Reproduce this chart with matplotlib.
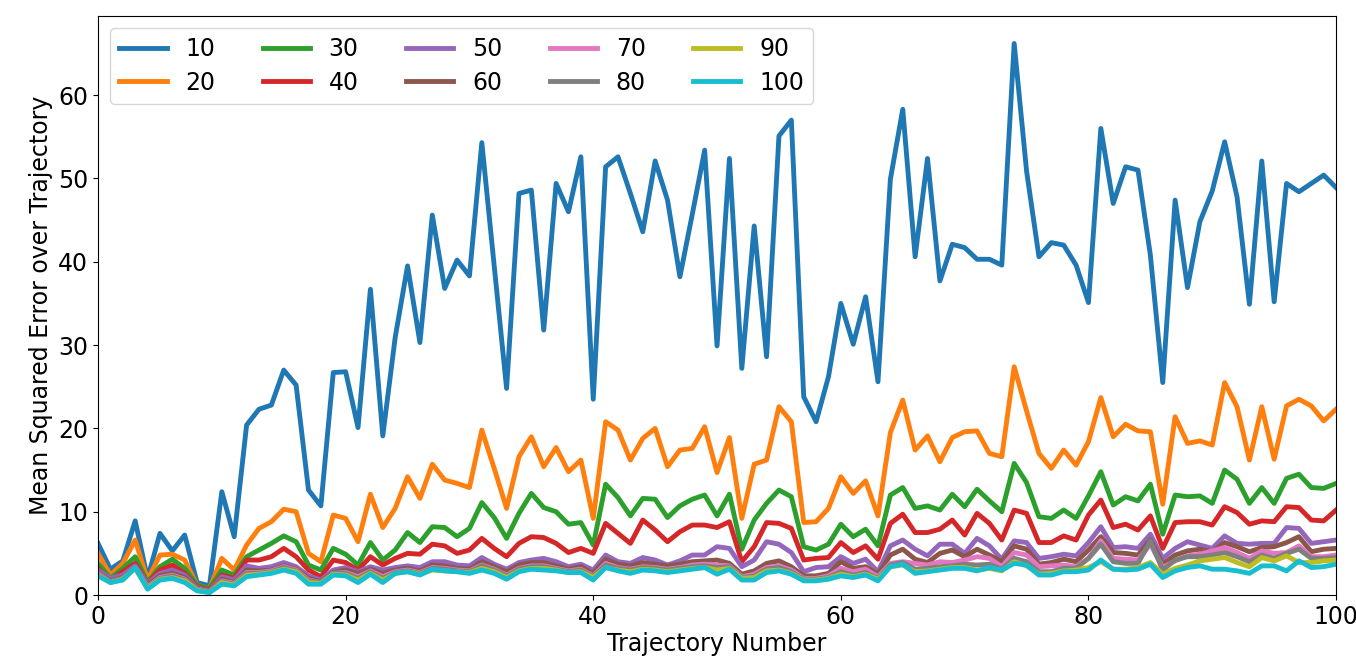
import matplotlib
matplotlib.use("Agg")
import matplotlib.pyplot as plt

trajectory = list(range(101))

s10 = [6.2, 3.1, 4.1, 8.9, 2.0, 7.4, 5.3, 7.2, 1.5, 1.1, 12.4, 7.0, 20.4, 22.3, 22.8, 27.0, 25.2, 12.6, 10.7, 26.7,
       26.8, 20.1, 36.7, 19.1, 30.9, 39.5, 30.3, 45.6, 36.8, 40.2, 38.3, 54.3, 39.5, 24.8, 48.2, 48.6, 31.8, 49.4, 46.0, 52.6,
       23.5, 51.4, 52.6, 48.2, 43.6, 52.1, 47.4, 38.2, 45.7, 53.4, 29.9, 52.4, 27.2, 44.3, 28.6, 55.1, 57.0, 23.8, 20.8, 26.2,
       35.0, 30.1, 35.8, 25.6, 49.9, 58.3, 40.6, 52.4, 37.7, 42.1, 41.7, 40.3, 40.3, 39.6, 66.2, 50.9, 40.6, 42.3, 42.0, 39.6,
       35.1, 56.0, 47.0, 51.4, 51.0, 40.8, 25.5, 47.4, 36.9, 44.8, 48.5, 54.4, 47.8, 34.9, 52.1, 35.2, 49.4, 48.4, 49.4, 50.4,
       48.9]
s20 = [5.0, 2.4, 3.8, 6.6, 1.8, 4.8, 4.9, 4.2, 1.2, 0.8, 4.4, 3.0, 6.0, 8.0, 8.8, 10.3, 10.0, 5.0, 4.0, 9.6,
       9.2, 6.4, 12.1, 8.1, 10.4, 14.2, 11.6, 15.7, 13.8, 13.4, 12.9, 19.8, 15.2, 10.4, 16.6, 19.0, 15.4, 17.7, 14.8, 16.2,
       9.2, 20.8, 19.8, 16.2, 18.8, 20.0, 15.4, 17.4, 17.6, 20.2, 14.7, 18.9, 9.2, 15.7, 16.2, 22.6, 20.8, 8.7, 8.8, 10.4,
       14.2, 12.2, 13.7, 9.5, 19.5, 23.4, 17.4, 19.1, 16.0, 18.9, 19.6, 19.7, 17.0, 16.6, 27.4, 22.1, 17.0, 15.2, 17.4, 15.6,
       18.4, 23.7, 19.0, 20.5, 19.7, 19.6, 10.9, 21.4, 18.2, 18.5, 18.0, 25.5, 22.6, 16.2, 22.6, 16.3, 22.7, 23.5, 22.7, 20.9,
       22.3]
s30 = [3.8, 2.0, 3.2, 4.6, 1.5, 3.4, 4.3, 3.2, 1.2, 0.8, 3.0, 2.4, 4.6, 5.4, 6.2, 7.1, 6.4, 3.6, 3.0, 5.6,
       4.9, 3.6, 6.3, 4.2, 5.4, 7.5, 6.3, 8.2, 8.1, 7.0, 8.0, 11.1, 9.3, 6.8, 9.8, 12.2, 10.5, 10.0, 8.5, 8.7,
       6.0, 13.3, 11.7, 9.5, 11.6, 11.5, 9.3, 10.7, 11.5, 12.0, 9.5, 12.1, 5.5, 9.0, 11.0, 12.6, 11.8, 5.8, 5.4, 6.1,
       8.5, 7.0, 7.9, 5.9, 12.0, 12.9, 10.4, 10.7, 10.2, 12.1, 10.6, 12.7, 11.3, 10.0, 15.8, 13.5, 9.4, 9.2, 10.2, 9.2,
       11.9, 14.8, 10.8, 11.8, 11.3, 13.3, 7.3, 12.0, 11.8, 11.9, 11.0, 15.0, 13.9, 11.0, 12.9, 11.0, 14.0, 14.5, 12.9, 12.8,
       13.4]
s40 = [3.2, 1.8, 2.8, 3.8, 1.4, 3.0, 3.6, 2.6, 1.0, 0.6, 2.4, 2.0, 4.2, 4.2, 4.6, 5.6, 4.6, 3.0, 2.2, 4.2,
       3.9, 3.0, 4.6, 3.6, 4.4, 5.0, 4.9, 6.1, 5.9, 5.0, 5.4, 6.8, 5.6, 4.6, 6.2, 7.0, 6.9, 6.2, 5.1, 5.6,
       5.0, 8.6, 7.4, 6.2, 9.0, 7.8, 6.4, 7.6, 8.4, 8.4, 8.1, 8.8, 4.0, 5.8, 8.7, 8.6, 8.0, 4.2, 4.4, 4.5,
       6.3, 5.1, 5.9, 4.3, 8.6, 9.7, 7.5, 7.5, 7.9, 9.0, 7.2, 9.8, 8.6, 6.6, 10.2, 9.8, 6.3, 6.3, 7.1, 6.6,
       9.6, 11.4, 8.1, 8.5, 7.8, 9.5, 5.6, 8.7, 8.8, 8.8, 8.4, 10.6, 9.9, 8.5, 8.9, 8.8, 10.6, 10.5, 9.0, 8.9,
       10.2]
s50 = [3.0, 2.0, 2.4, 3.5, 1.4, 2.6, 3.0, 2.4, 0.9, 0.5, 2.2, 1.8, 3.5, 3.2, 3.4, 3.9, 3.4, 2.3, 1.8, 3.0,
       3.3, 2.8, 3.4, 3.0, 3.3, 3.5, 3.3, 4.0, 4.0, 3.6, 3.5, 4.5, 3.7, 3.1, 3.9, 4.2, 4.4, 4.0, 3.4, 3.7,
       3.0, 4.8, 4.0, 3.8, 4.5, 4.2, 3.6, 4.1, 4.8, 4.8, 5.8, 5.6, 3.4, 4.2, 6.4, 6.1, 5.1, 2.8, 3.3, 3.4,
       4.6, 3.8, 4.3, 2.8, 5.9, 6.6, 5.5, 4.7, 6.1, 6.1, 5.0, 6.8, 5.9, 4.3, 6.5, 6.3, 4.4, 4.6, 4.9, 4.7,
       6.3, 8.2, 5.7, 5.8, 5.6, 7.3, 4.4, 5.6, 6.4, 6.0, 5.6, 7.1, 6.2, 6.1, 6.2, 6.2, 8.1, 8.0, 6.2, 6.4,
       6.6]
s60 = [2.7, 1.7, 2.1, 3.2, 1.2, 2.3, 2.6, 2.1, 0.8, 0.4, 1.9, 1.5, 3.0, 2.9, 3.0, 3.5, 3.1, 2.0, 1.6, 2.7,
       3.0, 2.6, 3.1, 2.6, 3.0, 3.2, 2.9, 3.6, 3.5, 3.2, 3.1, 4.0, 3.4, 2.8, 3.6, 3.9, 3.9, 3.5, 3.1, 3.4,
       2.6, 4.3, 3.7, 3.5, 3.9, 3.7, 3.5, 3.7, 4.0, 4.1, 4.2, 3.8, 2.5, 2.9, 3.8, 4.1, 3.4, 2.3, 2.3, 2.6,
       4.0, 3.2, 3.4, 2.5, 4.8, 5.5, 4.3, 3.9, 5.0, 5.4, 4.6, 5.5, 4.8, 4.0, 5.9, 5.5, 3.7, 3.9, 4.3, 4.0,
       5.4, 7.0, 5.1, 5.0, 4.8, 6.6, 3.7, 4.8, 5.3, 5.5, 5.2, 6.3, 5.8, 5.2, 5.7, 5.8, 6.3, 7.0, 5.2, 5.5,
       5.6]
s70 = [2.6, 1.6, 2.0, 3.3, 1.0, 2.1, 2.4, 1.9, 0.7, 0.4, 1.7, 1.4, 2.7, 2.7, 2.9, 3.4, 3.0, 1.8, 1.5, 2.6,
       2.7, 2.2, 2.9, 2.2, 2.8, 3.0, 2.7, 3.3, 3.2, 3.0, 2.9, 3.6, 3.1, 2.4, 3.2, 3.5, 3.5, 3.2, 2.9, 3.1,
       2.3, 3.8, 3.3, 3.1, 3.4, 3.3, 3.1, 3.3, 3.6, 3.7, 3.6, 3.5, 2.2, 2.5, 3.3, 3.5, 3.0, 2.0, 2.0, 2.3,
       3.2, 2.8, 3.1, 2.2, 3.8, 4.0, 3.8, 3.6, 4.0, 3.9, 4.2, 4.6, 4.4, 3.4, 5.1, 4.8, 3.4, 3.5, 3.6, 3.4,
       4.4, 6.5, 4.4, 4.3, 4.2, 6.1, 3.3, 4.1, 4.7, 4.9, 5.3, 5.7, 5.1, 4.4, 5.3, 5.0, 5.1, 5.9, 4.6, 4.6,
       4.8]
s80 = [2.5, 1.6, 2.0, 3.3, 0.9, 2.0, 2.3, 1.8, 0.7, 0.4, 1.6, 1.3, 2.6, 2.6, 2.8, 3.3, 2.9, 1.7, 1.5, 2.6,
       2.6, 2.0, 2.8, 2.0, 2.7, 2.9, 2.6, 3.2, 3.1, 2.9, 2.8, 3.5, 3.0, 2.3, 3.1, 3.4, 3.4, 3.1, 2.8, 3.0,
       2.2, 3.6, 3.2, 3.0, 3.3, 3.2, 3.0, 3.2, 3.4, 3.5, 3.3, 3.4, 2.1, 2.3, 3.1, 3.3, 2.8, 1.9, 1.9, 2.1,
       2.8, 2.4, 2.7, 2.0, 3.6, 3.9, 3.1, 3.2, 3.4, 3.5, 3.7, 3.6, 3.7, 3.1, 4.4, 4.0, 2.8, 2.8, 3.2, 3.2,
       4.4, 6.1, 4.0, 3.8, 3.8, 6.5, 3.0, 4.2, 4.6, 4.6, 4.8, 5.1, 4.6, 4.0, 4.8, 4.4, 5.0, 5.5, 4.4, 4.4,
       4.5]
s90 = [2.4, 1.5, 1.9, 3.2, 0.8, 1.9, 2.1, 1.7, 0.6, 0.3, 1.5, 1.2, 2.4, 2.5, 2.7, 3.1, 2.8, 1.5, 1.4, 2.5,
       2.4, 1.8, 2.6, 1.8, 2.6, 2.8, 2.5, 3.0, 2.9, 2.8, 2.7, 3.2, 2.8, 2.1, 2.9, 3.2, 3.2, 3.0, 2.7, 2.8,
       2.1, 3.3, 3.0, 2.8, 3.1, 3.0, 2.8, 3.0, 3.2, 3.3, 3.0, 3.2, 2.0, 2.1, 2.9, 3.0, 2.6, 1.8, 1.8, 2.0,
       2.5, 2.2, 2.5, 1.9, 3.4, 3.6, 2.8, 2.9, 3.1, 3.3, 3.3, 3.0, 3.2, 2.9, 4.0, 3.5, 2.5, 2.6, 2.9, 3.0,
       3.3, 4.0, 3.1, 3.1, 3.3, 3.9, 2.5, 3.2, 3.6, 4.1, 4.3, 4.5, 3.9, 3.4, 4.5, 4.1, 4.7, 3.9, 3.9, 4.1,
       4.2]
s100 = [2.3, 1.5, 1.8, 3.3, 0.7, 1.8, 2.0, 1.5, 0.5, 0.3, 1.3, 1.1, 2.2, 2.4, 2.6, 3.0, 2.6, 1.3, 1.3, 2.4,
        2.3, 1.5, 2.5, 1.5, 2.6, 2.8, 2.4, 3.1, 2.9, 2.8, 2.6, 3.0, 2.6, 1.9, 2.8, 3.1, 3.0, 2.9, 2.7, 2.7,
        1.8, 3.3, 2.9, 2.6, 3.0, 2.9, 2.7, 2.9, 3.1, 3.3, 2.5, 3.1, 1.8, 1.8, 2.7, 2.9, 2.5, 1.7, 1.7, 1.9,
        2.3, 2.1, 2.4, 1.7, 3.4, 3.7, 2.6, 2.8, 3.0, 3.2, 3.2, 2.9, 3.3, 3.0, 3.8, 3.6, 2.4, 2.4, 2.8, 2.8,
        3.0, 4.2, 3.1, 3.0, 3.1, 3.7, 2.1, 2.9, 3.3, 3.5, 3.1, 3.1, 2.9, 2.6, 3.5, 3.5, 2.9, 4.1, 3.3, 3.4,
        3.7]

labels = ["10", "20", "30", "40", "50", "60", "70", "80", "90", "100"]
series = [s10, s20, s30, s40, s50, s60, s70, s80, s90, s100]

plt.rcParams["font.family"] = ["DejaVu Sans"]
fs = 17

fig = plt.figure(figsize=(13.56, 6.58), dpi=100)
ax = fig.add_axes([0.0723, 0.0957, 0.913, 0.880])
for lab, ys in zip(labels, series):
    ax.plot(trajectory, ys, linewidth=3.5, label=lab)

ax.set_xlim(0, 100)
ax.set_ylim(0, 69.5)
ax.set_yticks([0, 10, 20, 30, 40, 50, 60])
ax.set_xticks([0, 20, 40, 60, 80, 100])
ax.tick_params(labelsize=fs)
ax.set_xlabel("Trajectory Number", fontsize=fs, labelpad=2)
ax.set_ylabel("Mean Squared Error over Trajectory", fontsize=fs)
ax.legend(loc="upper left", ncol=5, fontsize=fs, handlelength=2.0, columnspacing=2.0,
          labelspacing=0.4, borderaxespad=0.5)
fig.savefig("out.png", dpi=100)
